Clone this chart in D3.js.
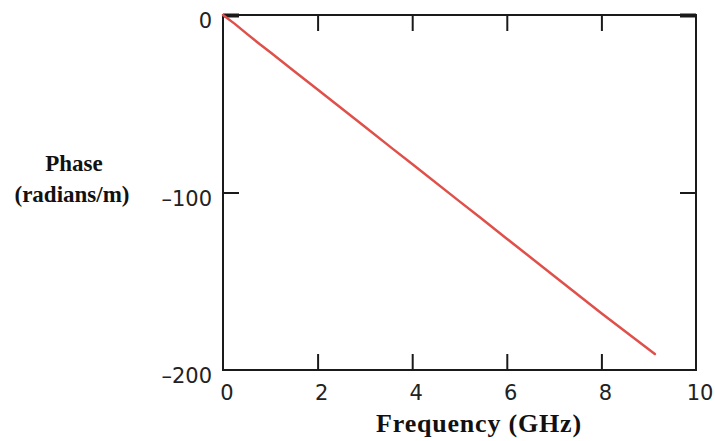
<!DOCTYPE html>
<html>
<head>
<meta charset="utf-8">
<script src="https://cdn.jsdelivr.net/npm/d3@7/dist/d3.min.js"></script>
<style>
  html, body { margin: 0; padding: 0; background: #ffffff; }
  svg { display: block; }
</style>
</head>
<body>
<svg id="chart" width="715" height="441"></svg>
<script>
// Frequency (GHz) and phase constant (radians/m) along the line
const frequency = [0, 0.25, 0.5, 0.78, 1, 1.5, 2, 3, 3.57, 4, 5, 5.43, 6, 7, 8, 9.13];
const phase     = [0, -5, -10.5, -16.5, -21, -31.5, -42, -63, -75, -84, -105, -114, -126, -147, -168, -191];

// Axis ticks and their labels
const xTicks = [0, 2, 4, 6, 8, 10];
const xTickLabels = ["0", "2", "4", "6", "8", "10"];
const yTicks = [0, -100, -200];
const yTickLabels = ["0", "\u2013100", "\u2013200"];

const svg = d3.select("#chart");
const plotLeft = 223, plotRight = 696, plotTop = 15, plotBottom = 370;

const x = d3.scaleLinear().domain([0, 10]).range([plotLeft, plotRight]);
const y = d3.scaleLinear().domain([-200, 0]).range([plotBottom, plotTop]);

const tickLen = 16;
const axisColor = "#1a1a1a";

// Inward ticks on all four sides
const inner = [2, 4, 6, 8];
svg.append("g").attr("transform", `translate(0,${plotBottom})`)
  .call(d3.axisBottom(x).tickValues(inner).tickSize(-tickLen).tickFormat(""))
  .call(g => g.select(".domain").remove());
svg.append("g").attr("transform", `translate(0,${plotTop})`)
  .call(d3.axisTop(x).tickValues(inner).tickSize(-tickLen).tickFormat(""))
  .call(g => g.select(".domain").remove());
svg.append("g").attr("transform", `translate(${plotLeft},0)`)
  .call(d3.axisLeft(y).tickValues([0, -100]).tickSize(-tickLen).tickFormat(""))
  .call(g => g.select(".domain").remove());
svg.append("g").attr("transform", `translate(${plotRight},0)`)
  .call(d3.axisRight(y).tickValues([0, -100]).tickSize(-tickLen).tickFormat(""))
  .call(g => g.select(".domain").remove());
svg.selectAll(".tick line").attr("stroke", axisColor).attr("stroke-width", 2);
// ticks at the zero level sit on the frame and read a little heavier
svg.selectAll(".tick line").filter(d => d === 0).attr("stroke-width", 4);

// Frame
svg.append("rect")
  .attr("x", plotLeft).attr("y", plotTop)
  .attr("width", plotRight - plotLeft).attr("height", plotBottom - plotTop)
  .attr("fill", "none").attr("stroke", axisColor).attr("stroke-width", 2);

// Tick labels
const labelFont = "'DejaVu Sans', Verdana, sans-serif";
svg.append("g").selectAll("text").data(xTicks).join("text")
  .attr("x", d => x(d) + 4)
  .attr("y", plotBottom + 30)
  .attr("text-anchor", "middle")
  .attr("font-family", labelFont).attr("font-size", 21).attr("fill", "#222")
  .text((d, i) => xTickLabels[i]);

svg.append("g").selectAll("text").data(yTicks).join("text")
  .attr("x", plotLeft - 11)
  .attr("y", d => y(d) + 13)
  .attr("text-anchor", "end")
  .attr("font-family", labelFont).attr("font-size", 21).attr("fill", "#222")
  .text((d, i) => yTickLabels[i]);

// Axis titles
const titleFont = "'Liberation Serif', 'Times New Roman', serif";
svg.append("text")
  .attr("x", 479).attr("y", 432)
  .attr("text-anchor", "middle")
  .attr("font-family", titleFont).attr("font-weight", "bold").attr("font-size", 26)
  .attr("letter-spacing", 0.8).attr("fill", "#111")
  .text("Frequency (GHz)");
svg.append("text")
  .attr("x", 74).attr("y", 171)
  .attr("text-anchor", "middle")
  .attr("font-family", titleFont).attr("font-weight", "bold").attr("font-size", 23).attr("fill", "#111")
  .text("Phase");
svg.append("text")
  .attr("x", 72).attr("y", 202)
  .attr("text-anchor", "middle")
  .attr("font-family", titleFont).attr("font-weight", "bold").attr("font-size", 23).attr("fill", "#111")
  .text("(radians/m)");

// Phase curve
const line = d3.line().x((d, i) => x(frequency[i])).y(d => y(d));
svg.append("path")
  .datum(phase)
  .attr("d", line)
  .attr("fill", "none")
  .attr("stroke", "#e0504a")
  .attr("stroke-width", 2.5)
  .attr("stroke-linejoin", "round")
  .attr("stroke-linecap", "round");
</script>
</body>
</html>
